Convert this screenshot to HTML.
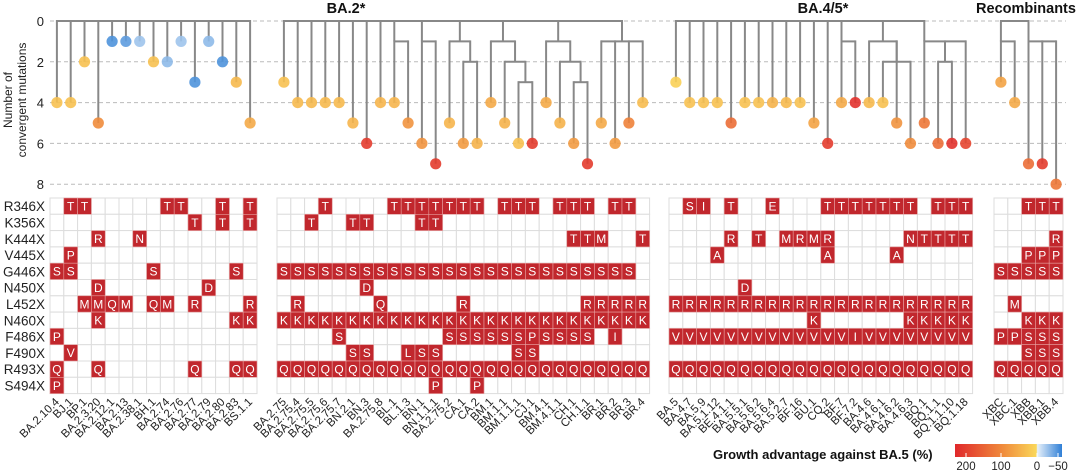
<!DOCTYPE html>
<html><head><meta charset="utf-8">
<style>
html,body{margin:0;padding:0;background:#fff;}
svg{display:block;font-family:"Liberation Sans",sans-serif;}
</style></head>
<body>
<svg id="fig" width="1080" height="472" viewBox="0 0 1080 472" xmlns="http://www.w3.org/2000/svg"></svg>
<script>
const mutations = ["R346X","K356X","K444X","V445X","G446X","N450X","L452X","N460X","F486X","F490X","R493X","S494X"];
const namesBA2 = ["BA.2.10.4","BJ.1","BP.1","BA.2.3.20","BA.2.12.1","BA.2.13","BA.2.38.1","BH.1","BA.2.74","BA.2.76","BA.2.77","BA.2.79","BA.2.80","BA.2.83","BS.1.1"];
const namesBA275 = ["BA.2.75","BA.2.75.4","BA.2.75.5","BA.2.75.6","BA.2.75.7","BN.2.1","BN.3","BA.2.75.8","BL.1","BL.1.3","BN.1","BN.1.1.1","BA.2.75.2","CA.1","CA.2","BM.1","BM.1.1","BM.1.1.1","CJ.1","BM.4.1","BM.4.1.1","CH.1","CH.1.1","BR.1","BR.2","BR.3","BR.4"];
const namesBA45 = ["BA.5","BA.4.7","BA.5.9","BA.5.1.12","BE.4.1.1","BA.5.5.1","BA.5.6.2","BA.5.6.4","BA.5.2.7","BF.16","BU.1","CQ.2","BF.7","BF.7.2","BA.4.6","BA.4.6.1","BA.4.6.2","BA.4.6.3","BQ.1","BQ.1.1","BQ.1.1.10","BQ.1.18"];
const namesRec = ["XBC","XBC.1","XBB","XBB.1","XBB.4"];
const convBA2 = [4,4,2,5,1,1,1,2,2,1,3,1,2,3,5];
const convBA275 = [3,4,4,4,4,5,6,4,4,5,6,7,5,6,6,4,5,6,6,4,5,6,7,5,6,5,4];
const convBA45 = [3,4,4,4,5,4,4,4,4,4,5,6,4,4,4,4,5,6,5,6,6,6];
const convRec = [3,4,7,7,8];
const growthBA2 = [30,30,30,100,-40,-35,-15,30,-20,-15,-40,-20,-40,40,60];
const growthBA275 = [30,40,40,40,40,45,180,45,45,90,90,180,45,80,50,60,50,30,180,60,50,80,180,60,80,110,35];
const growthBA45 = [10,30,30,30,130,30,30,50,40,30,70,180,60,190,40,30,90,100,120,130,190,170];
const growthRec = [70,60,130,180,120];
const gridBA2 = [".TT.....TT..T.T","..........T.T.T","...R..N........",".P.............","SS.....S.....S.","...D.......D...","..MMQM.QM.R...R","...K.........KK","P..............",".V.............","Q..Q......Q..QQ","P.............."];
const gridBA275 = ["...T....TTTTTTT.TTT.TTT.TT.","..T..TT...TT...............",".....................TTM..T","...........................","SSSSSSSSSSSSSSSSSSSSSSSSSS.","......D....................",".R.....Q.....R........RRRRR","KKKKKKKKKKKKKKKKKKKKKKKKKKK","....S.......SSSSSSPSSSS.I..",".....SS..LSS.....SS........","QQQQQQQQQQQQQQQQQQQQQQQQQQQ","...........P..P............"];
const gridBA45 = [".SI.T..E...TTTTTTT.TTT","......................","....R.T.MRMR.....NTTTT","...A.......A....A.....","......................",".....D................","RRRRRRRRRRRRRRRRRRRRRR","..........K......KKKKK","VVVVVVVVVVVVVIVVVVVVVV","......................","QQQQQQQQQQQQQQQQQQQQQQ","......................"];
const gridRec = ["..TTT",".....","....R","..PPP","SSSSS",".....",".M...","..KKK","PPSSS","..SSS","QQQQQ","....."];
const treeBA2 = {h:0,c:[0,1,2,3,4,5,6,7,8,9,10,11,12,13,14]};
const treeBA275 = {h:0,c:[0,1,2,3,4,5,6,7,{h:1,at:8,c:[8,9]},{h:1,at:10,c:[10,11]},{h:1,c:[12,{h:2,c:[13,14]}]},{h:1,c:[15,{h:2,c:[16,{h:3,c:[17,18]}]}]},{h:1,c:[19,{h:2,c:[20,{h:3,c:[21,22]}]}]},{h:1,c:[23,24,25,26]}]};
const treeBA45 = {h:0,c:[0,1,2,3,4,5,6,7,8,9,10,11,{h:1,at:12,c:[12,13]},{h:1,c:[14,{h:2,c:[15,17]},16]},{h:1,at:18,c:[18,{h:2,c:[19,20]},21]}]};
const treeRec = {h:0,c:[{h:1,at:0,c:[0,1]},{h:1,at:2,c:[2,3,4]}]};
const yTicks = [0,2,4,6,8];

const NS="http://www.w3.org/2000/svg";
const svg=document.getElementById('fig');
const CW=13.8, RH=16.3, GT=198, Y0=21, YU=20.4;
function y(v){return Y0+v*YU;}
function mk(tag,attrs,parent){const e=document.createElementNS(NS,tag);for(const k in attrs)e.setAttribute(k,attrs[k]);(parent||svg).appendChild(e);return e;}
function lerp(a,b,t){return a.map((v,i)=>Math.round(v+(b[i]-v)*t));}
function color(g){
  let c;
  if(g>=100)c=lerp([240,140,60],[224,40,43],(Math.min(g,200)-100)/100);
  else if(g>=0)c=lerp([250,215,90],[240,140,60],g/100);
  else c=lerp([205,225,245],[47,127,214],Math.min(-g,50)/50);
  return `rgb(${c[0]},${c[1]},${c[2]})`;
}
yTicks.forEach(t=>{
  const l=mk('line',{x1:50,x2:1066,y1:y(t),y2:y(t),stroke:'#bbb','stroke-width':1,'stroke-dasharray':'4,3'});
  
  
  const tx=mk('text',{x:44,y:y(t)+5,'text-anchor':'end','font-size':13,fill:'#222'});
  tx.textContent=t;
  
  
});
const yt=mk('text',{transform:'translate(14,100) rotate(-90)','text-anchor':'middle','font-size':12,fill:'#222'});


const t1=mk('tspan',{x:0,dy:-2},yt);t1.textContent='Number of';
const t2=mk('tspan',{x:0,dy:14},yt);t2.textContent='convergent mutations';

const panels=[
 {x0:50,names:namesBA2,conv:convBA2,growth:growthBA2,grid:gridBA2,tree:treeBA2,key:'ba2-early'},
 {x0:277,names:namesBA275,conv:convBA275,growth:growthBA275,grid:gridBA275,tree:treeBA275,key:'ba2-75'},
 {x0:669,names:namesBA45,conv:convBA45,growth:growthBA45,grid:gridBA45,tree:treeBA45,key:'ba45'},
 {x0:994,names:namesRec,conv:convRec,growth:growthRec,grid:gridRec,tree:treeRec,key:'recombinants'}
];
panels.forEach(p=>{
  const n=p.names.length;
  const lx=i=>p.x0+(i+0.5)*CW;
  const g=mk('g',{});
  
  
  function nodeX(nd){if(typeof nd==='number')return lx(nd);if(nd.at!==undefined)return lx(nd.at);return (nodeX(nd.c[0])+nodeX(nd.c[nd.c.length-1]))/2;}
  function draw(nd){
    const xs=nd.c.map(nodeX);
    mk('line',{x1:Math.min(...xs),x2:Math.max(...xs),y1:y(nd.h),y2:y(nd.h),stroke:'#888','stroke-width':2},g);
    nd.c.forEach((c,k)=>{
      const yEnd=typeof c==='number'?y(p.conv[c]):y(c.h);
      mk('line',{x1:xs[k],x2:xs[k],y1:y(nd.h)-1,y2:yEnd,stroke:'#888','stroke-width':2},g);
      if(typeof c!=='number')draw(c);
    });
  }
  draw(p.tree);
  p.conv.forEach((v,i)=>{
    const d=mk('circle',{cx:lx(i),cy:y(v),r:5.6,fill:color(p.growth[i]),'fill-opacity':0.9});
    
    
  });
  const gg=mk('g',{});
  
  
  for(let r=0;r<12;r++)for(let i=0;i<n;i++){
    mk('rect',{x:p.x0+i*CW,y:GT+r*RH,width:CW,height:RH,fill:'#fff',stroke:'#ddd','stroke-width':1},gg);
  }
  for(let r=0;r<12;r++)for(let i=0;i<n;i++){
    const ch=p.grid[r][i];
    if(ch&&ch!=='.'){
      const c=mk('rect',{x:p.x0+i*CW,y:GT+r*RH,width:CW,height:RH,fill:'#c1272d',stroke:'#e8a0a0','stroke-width':0.6});
      
      
      const t=mk('text',{x:p.x0+(i+0.5)*CW,y:GT+r*RH+RH/2+4.3,'text-anchor':'middle','font-size':12,fill:'#fff'});
      t.textContent=ch;
      
      
    }
  }
  p.names.forEach((nm,i)=>{
    const cx=lx(i)+3, cy=GT+12*RH+9;
    const t=mk('text',{x:cx,y:cy,transform:`rotate(-45 ${cx} ${cy})`,'text-anchor':'end','font-size':11.5,fill:'#222'});
    t.textContent=nm;
    
    
  });
});
mutations.forEach((m,r)=>{
  const t=mk('text',{x:45,y:GT+r*RH+RH/2+5,'text-anchor':'end','font-size':13.5,fill:'#222'});
  t.textContent=m;
  
  
});
[['BA.2*',346,'ba2-title'],['BA.4/5*',823,'ba45-title'],['Recombinants',1026,'recombinants-title']].forEach(a=>{
  const t=mk('text',{x:a[1],y:13,'text-anchor':'middle','font-size':14.5,'font-weight':'bold',fill:'#111'});
  t.textContent=a[0];
  
  
});
const defs=mk('defs',{});
const lg=mk('linearGradient',{id:'lg',x1:0,x2:1,y1:0,y2:0},defs);
[[0,'#e0282b'],[0.45,'#f08c3c'],[0.76,'#fad75a'],[0.77,'#e6f0fa'],[1,'#2f7fd6']].forEach(s=>mk('stop',{offset:s[0],'stop-color':s[1]},lg));
const lt=mk('text',{x:713,y:459,'font-size':13,'font-weight':'bold',fill:'#111'});
lt.textContent='Growth advantage against BA.5 (%)';


const lb=mk('rect',{x:955,y:444,width:107,height:13,fill:'url(#lg)'});


[[966,'200'],[1001,'100'],[1037,'0'],[1058,'\u221250']].forEach(a=>{
  mk('line',{x1:a[0],x2:a[0],y1:453,y2:457,stroke:'#fff','stroke-width':1});
  const t=mk('text',{x:a[0],y:470,'text-anchor':'middle','font-size':11.5,fill:'#222'});
  t.textContent=a[1];
  
  
});
</script>
</body></html>
